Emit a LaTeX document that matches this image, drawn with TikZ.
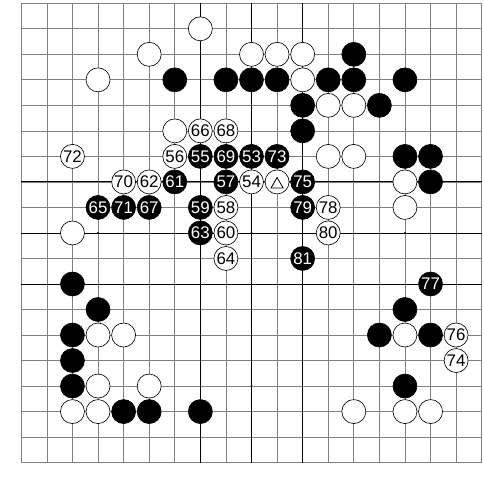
\documentclass[tikz,border=0pt]{standalone}
\usepackage{fontspec}
\setmainfont{Liberation Sans}
\usetikzlibrary{shapes.geometric}

\begin{document}
\begin{tikzpicture}[x=6.395mm, y=-6.38mm,
	gridline/.style={black!50, line width=0.5pt},
	darkline/.style={black, line width=0.6pt},
	stone/.style={circle, draw=black, line width=0.45pt, minimum size=6mm, inner sep=0pt, font=\fontsize{12}{12}\selectfont},
	blackstone/.style={stone, fill=black, text=white},
	whitestone/.style={stone, fill=white, text=black}]
	
	\fill[white] (-0.833,-0.129) rectangle (18.09,18.64);
	\useasboundingbox (-0.833,-0.129) rectangle (18.09,18.64);
	
	% board
	\foreach \i in {0,...,18} {
		\draw[gridline] (\i,0) -- (\i,18);
		\draw[gridline] (0,\i) -- (18,\i);
	}
	\foreach \i in {7,9,11} {
		\draw[darkline] (\i,0) -- (\i,18);
		\draw[darkline] (0,\i) -- (18,\i);
	}
	\foreach \c in {3,9,15}
		\foreach \r in {3,9,15}
			\fill (\c,\r) circle (0.8pt);
	
	% stones already on the board
	\foreach \c/\r in {13/2, 6/3, 8/3, 9/3, 10/3, 12/3, 13/3, 15/3, 11/4, 14/4, 11/5,
		15/6, 16/6, 16/7, 2/11, 3/12, 2/13, 2/14, 2/15, 4/16, 5/16, 7/16,
		15/12, 14/13, 16/13, 15/15}
		\node[blackstone] (b\c-\r) at (\c,\r) {};
	\foreach \c/\r in {7/1, 5/2, 9/2, 10/2, 11/2, 3/3, 11/3, 12/4, 13/4, 6/5,
		12/6, 13/6, 15/7, 15/8, 2/9, 3/13, 4/13, 3/15, 5/15, 2/16, 3/16,
		15/13, 13/16, 15/16, 16/16}
		\node[whitestone] (w\c-\r) at (\c,\r) {};
	
	% marked stone
	\node[whitestone] (mark) at (10,7) {};
	\node[draw, line width=0.6pt, regular polygon, regular polygon sides=3, minimum size=3.5mm, inner sep=0pt] (tri) at (10,7.1) {};
	
	% numbered moves
	\foreach \n/\c/\r in {53/9/6, 55/7/6, 57/8/7, 59/7/8, 61/6/7, 63/7/9, 65/3/8, 67/5/8,
		69/8/6, 71/4/8, 73/10/6, 75/11/7, 77/16/11, 79/11/8, 81/11/10}
		\node[blackstone] (m\n) at (\c,\r) {\n};
	\foreach \n/\c/\r in {54/9/7, 56/6/6, 58/8/8, 60/8/9, 62/5/7, 64/8/10, 66/7/5, 68/8/5,
		70/4/7, 72/2/6, 74/17/14, 76/17/13, 78/12/8, 80/12/9}
		\node[whitestone] (m\n) at (\c,\r) {\n};
	
\end{tikzpicture}
\end{document}
